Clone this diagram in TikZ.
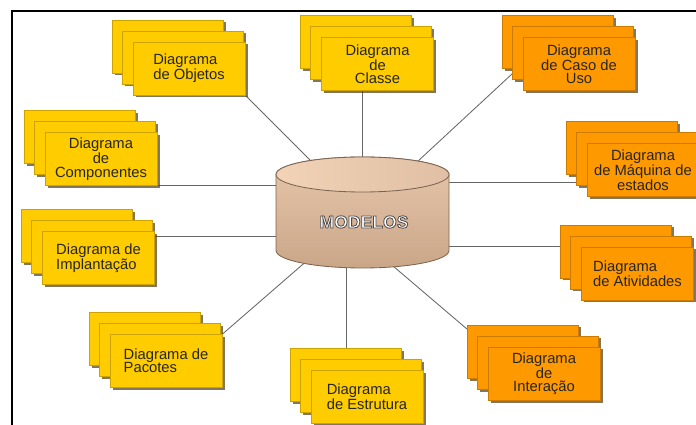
\documentclass[tikz,border=0pt]{standalone}
\usepackage{fontspec}
\setmainfont{Liberation Sans}
\usetikzlibrary{calc}

\definecolor{amarelo}{RGB}{255,204,0}
\definecolor{laranja}{RGB}{255,153,0}
\definecolor{sombra}{RGB}{80,60,20}
\definecolor{cilborda}{RGB}{125,100,80}
\definecolor{cilA}{RGB}{230,199,171}
\definecolor{cilB}{RGB}{202,166,136}
\definecolor{cilC}{RGB}{242,211,184}
\definecolor{cilD}{RGB}{224,191,164}

\pgfdeclarelayer{fundo}
\pgfsetlayers{fundo,main}

\newcommand{\cardfont}{\fontsize{10.5}{9.5}\selectfont}

\begin{document}
\begin{tikzpicture}[
  x=0.025cm, y=-0.025cm,
  link/.style={draw=black!60, line width=0.6pt},
  folha/.style={fill=#1, draw=#1!80!black, line width=0.3pt},
  sombra/.style={fill=sombra, opacity=0.7},
  card/.style={folha=#1, minimum width=2.8cm, minimum height=1.325cm, inner sep=0pt, font=\cardfont, text=black!85},
]
\useasboundingbox (0,0) rectangle (696,425);
\clip (0,0) rectangle (696,425);

% moldura
\draw[line width=1.4pt] (12,430) -- (12,11) -- (700,11);

% pilhas de diagramas
\foreach \nm/\cx/\cy/\cor/\alinha/\txt in {
  objetos/189/68.5/amarelo/left/{Diagrama\\de Objetos},
  classe/377.5/64/amarelo/center/{Diagrama\\de\\Classe},
  caso/579/64/laranja/center/{Diagrama\\de Caso de\\Uso},
  maquina/643/170/laranja/center/{Diagrama\\de M\'aquina de\\estados},
  atividades/637.5/273.5/laranja/left/{Diagrama\\de Atividades},
  interacao/544/373.5/laranja/center/{Diagrama\\de\\Interação},
  estrutura/367/397/amarelo/left/{Diagrama\\de Estrutura},
  pacotes/166/361/amarelo/left/{Diagrama de\\Pacotes},
  implantacao/98.5/258/amarelo/left/{Diagrama de\\Implantação},
  componentes/101/159/amarelo/center/{Diagrama\\de\\Componentes}}{
  \fill[sombra] (\cx-74.5,\cy-46) rectangle (\cx+36.5,\cy+7);
  \path[folha=\cor] (\cx-77,\cy-48.5) rectangle (\cx+34,\cy+4.5);
  \fill[sombra] (\cx-64.5,\cy-35) rectangle (\cx+56.5,\cy+18);
  \path[folha=\cor] (\cx-67,\cy-37.5) rectangle (\cx+54,\cy+15.5);
  \fill[sombra] (\cx-53.5,\cy-24) rectangle (\cx+58.5,\cy+29);
  \node[card=\cor, align=\alinha] (\nm) at (\cx,\cy) {\txt};
}

% cilindro
\coordinate (centro) at (362.5,212.5);
\path[draw=cilborda, line width=0.6pt, top color=cilA, bottom color=cilB]
  (276,174.5) -- (276,250.5)
  arc[start angle=180, end angle=0, x radius=86.5, y radius=17.5]
  -- (449,174.5)
  arc[start angle=0, end angle=-180, x radius=86.5, y radius=17.5] -- cycle;
\path[draw=cilborda, line width=0.6pt, left color=cilC, right color=cilD]
  (362.5,174.5) ellipse[x radius=86.5, y radius=17.5];
\node[font=\bfseries\fontsize{12.5}{14}\selectfont, text=white, inner sep=0pt] (modelos) at (364,222)
  {\special{pdf:literal direct 2 Tr 0.6 w 0.32 0.3 0.3 RG}MODELOS\special{pdf:literal direct 0 Tr}};

% ligacoes
\begin{pgfonlayer}{fundo}
\draw[link] (objetos.south east) -- (centro);
\draw[link] (classe.south -| centro) -- (centro);
\draw[link] (caso.west) -- (centro);
\draw[link] ($(maquina.west)+(0,12)$) coordinate (pmaq) -- (pmaq -| centro);
\draw[link] (atividades.north west) -- (atividades.north west -| centro);
\draw[link] (interacao.north west) -- ($(centro)+(0,27.5)$);
\draw[link] ($(estrutura.north)+(-21,0)$) coordinate (pest) -- (pest |- centro);
\draw[link] (pacotes.north east) -- (centro);
\draw[link] ($(implantacao.north east)+(0,5)$) coordinate (pimp) -- (pimp -| centro);
\draw[link] (componentes.south east) -- (componentes.south east -| centro);
\end{pgfonlayer}

\end{tikzpicture}
\end{document}
